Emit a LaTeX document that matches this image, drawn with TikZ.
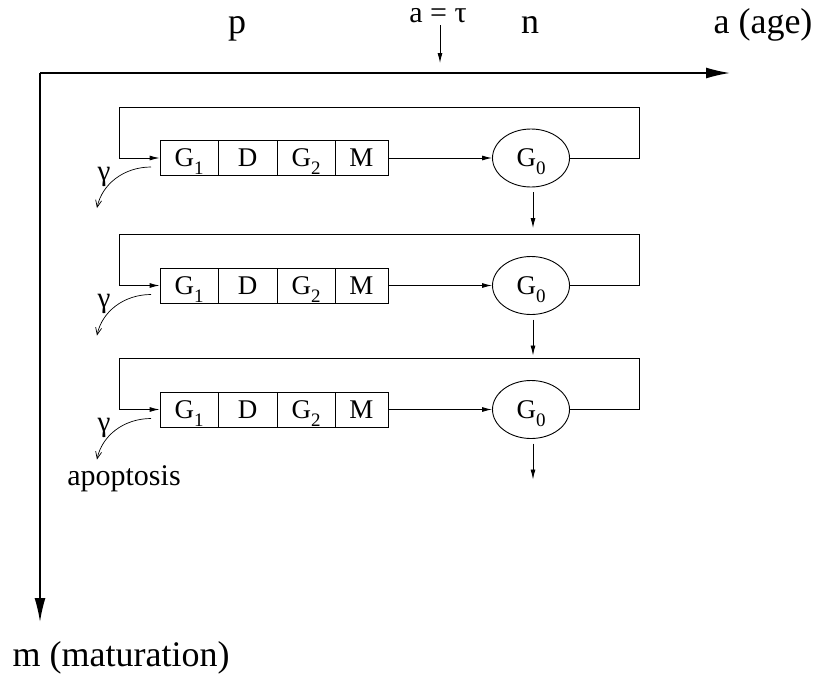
\documentclass[tikz,border=0pt]{standalone}
\usepackage{fontspec}
\setmainfont{Liberation Serif}
\usetikzlibrary{arrows.meta,calc,shapes.geometric}
\tikzset{
  ln/.style={line width=0.9pt},
  arr/.style={ln,-{Latex[length=10pt,width=5pt]}},
  axis/.style={line width=1.6pt,-{Latex[length=24pt,width=11pt]}},
  barb/.style={line width=0.7pt,-{Straight Barb[length=7pt,width=6pt]}},
  cell/.style={draw,ln,minimum height=35pt,inner sep=0pt,font=\fontsize{27}{31}\selectfont},
  gnode/.style={draw,ln,ellipse,minimum width=77pt,minimum height=58pt,inner sep=0pt,font=\fontsize{27}{31}\selectfont},
  big/.style={font=\fontsize{36}{40}\selectfont,inner sep=0pt,anchor=base},
  mid/.style={font=\fontsize{29}{33}\selectfont,inner sep=0pt,anchor=base}
}
\newcommand{\sub}[1]{\raisebox{-0.3em}[0pt][0pt]{\fontsize{19}{21}\selectfont #1}}
\begin{document}
\begin{tikzpicture}[x=1pt,y=-1pt]
\useasboundingbox (0,0) rectangle (817,673);
% axes
\coordinate (O) at (40,73);
\coordinate (ax) at (730,73);
\coordinate (ay) at (40,622);
\draw[axis] (O) -- (ax);
\draw[axis] (O) -- (ay);
\node[big] (p) at (237,33) {p};
\node[big] (n) at (530,33) {n};
\node[big] (age) at (763,33) {a (age)};
\node[big] (mat) at (121,666) {m (maturation)};
\node[mid,font=\fontsize{30}{34}\selectfont] (tau) at (438,22) {a = τ};
\coordinate (tauA) at (440,25);
\coordinate (tauB) at (440,63);
\draw[arr] (tauA) -- (tauB);
% rows
\foreach \i/\c in {1/158,2/285.5,3/409.5}{
  \node[cell,minimum width=58pt] (ga\i) at (189,\c) {G\sub{1}};
  \node[cell,minimum width=59pt] (d\i) at (247.5,\c) {D};
  \node[cell,minimum width=58pt] (gb\i) at (306,\c) {G\sub{2}};
  \node[cell,minimum width=53pt] (m\i) at (361.5,\c) {M};
  \node[gnode] (e\i) at (531,\c) {G\sub{0}};
  \draw[arr] (m\i.east) -- (e\i.west);
  \coordinate (r\i) at (639,\c);
  \coordinate (rt\i) at (639,\c-51);
  \coordinate (lt\i) at (119,\c-51);
  \coordinate (l\i) at (119,\c);
  \draw[ln] (e\i.east) -- (r\i) -- (rt\i) -- (lt\i) -- (l\i);
  \draw[arr] (l\i) -- (ga\i.west);
  \coordinate (gs\i) at (151,\c+9);
  \coordinate (ge\i) at (97,\c+50);
  \draw[barb] (gs\i) .. controls (124,\c+9) and (102,\c+26) .. (ge\i);
  \node[mid] (gam\i) at (104,\c+22) {γ};
  \coordinate (da\i) at (533,\c+34);
  \coordinate (db\i) at (533,\c+70);
  \draw[arr] (da\i) -- (db\i);
}
\node[font=\fontsize{30}{34}\selectfont,inner sep=0pt,anchor=base] (apo) at (124,485) {apoptosis};
\end{tikzpicture}
\end{document}
